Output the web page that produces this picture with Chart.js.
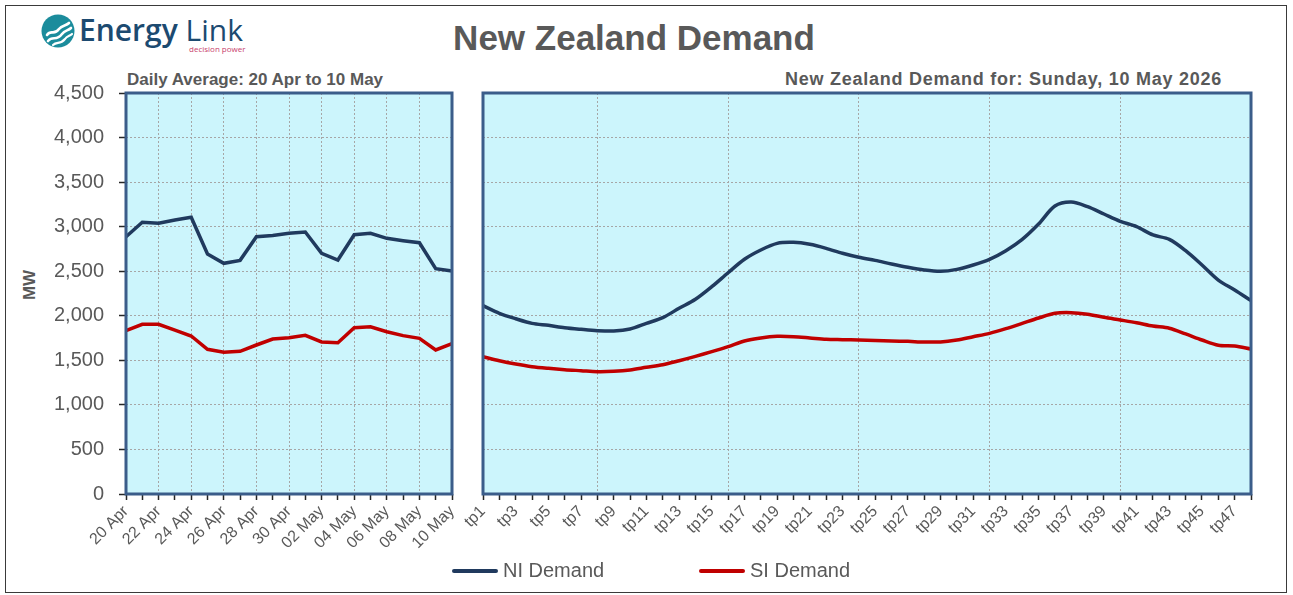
<!DOCTYPE html>
<html>
<head>
<meta charset="utf-8">
<script src="https://cdn.jsdelivr.net/npm/chart.js@4.4.1/dist/chart.umd.min.js"></script>
<style>
  body { margin: 0; background: #fff; }
  #wrap { position: relative; width: 1293px; height: 595px; overflow: hidden; font-family: "Liberation Sans", Arial, sans-serif; }
  #frame { position: absolute; left: 5px; top: 5px; width: 1282px; height: 588px; border: 1.5px solid #3a3a3a; box-sizing: border-box; }
  canvas { position: absolute; top: 0; }
  .txt { position: absolute; color: #595959; white-space: nowrap; }
  .legend-item { position: absolute; top: 558px; height: 24px; font-size: 20px; line-height: 24px; color: #595959; }
  .legend-item span { display: inline-block; width: 46px; height: 4px; border-radius: 2px; vertical-align: middle; margin-right: 5px; position: relative; top: -1px; }
</style>
</head>
<body>
<div id="wrap">
  <div id="frame"></div>

  <!-- logo -->
  <svg style="position:absolute;left:40px;top:14px" width="38" height="36" viewBox="0 0 38 36">
    <circle cx="18" cy="17" r="16.5" fill="#1b8c9c"/>
    <path d="M7 21 C11 15, 14 22, 19 15 C22 11, 26 12, 29 9" stroke="#fff" stroke-width="2.6" fill="none" stroke-linecap="round"/>
    <path d="M8 27 C13 21, 16 28, 22 20 C25 16, 28 17, 31 14" stroke="#fff" stroke-width="2.6" fill="none" stroke-linecap="round"/>
    <path d="M13 31 C17 27, 20 31, 25 25 C27 22, 30 22, 32 20" stroke="#fff" stroke-width="2.2" fill="none" stroke-linecap="round"/>
  </svg>
  <div class="txt" style="left:79px;top:12px;font-family:'Open Sans',sans-serif;font-size:30px;line-height:36px;color:#1c4a70;">
    <span style="font-weight:600;">Energy</span> <span style="font-weight:400;">Link</span>
  </div>
  <div class="txt" style="left:189px;top:44px;font-family:'Open Sans',sans-serif;font-size:8px;line-height:10px;color:#c8426c;">decision power</div>

  <div class="txt" style="left:0;width:1268px;top:18px;text-align:center;font-size:35px;line-height:40px;font-weight:bold;">New Zealand Demand</div>
  <div class="txt" style="left:127px;top:70px;font-size:17px;line-height:20px;font-weight:bold;">Daily Average: 20 Apr to 10 May</div>
  <div class="txt" style="right:71px;top:69px;font-size:18px;line-height:20px;font-weight:bold;letter-spacing:0.75px;">New Zealand Demand for: Sunday, 10 May 2026</div>
  <div class="txt" style="left:30px;top:285px;font-size:17px;line-height:20px;font-weight:bold;transform:translate(-50%,-50%) rotate(-90deg);">MW</div>

  <canvas id="dailyCanvas" width="470" height="595" style="left:0"></canvas>
  <canvas id="periodCanvas" width="853" height="595" style="left:440px"></canvas>

  <div class="legend-item" style="left:452px;"><span style="background:#203a5e"></span>NI Demand</div>
  <div class="legend-item" style="left:699px;"><span style="background:#c00000"></span>SI Demand</div>
</div>

<script>
// Daily averages, 20 Apr to 10 May
const dayLabels = [
  "20 Apr", "21 Apr", "22 Apr", "23 Apr", "24 Apr", "25 Apr", "26 Apr",
  "27 Apr", "28 Apr", "29 Apr", "30 Apr", "01 May", "02 May", "03 May",
  "04 May", "05 May", "06 May", "07 May", "08 May", "09 May", "10 May"
];
const niDaily = [2887, 3049, 3038, 3075, 3105, 2693, 2589, 2622, 2887, 2902, 2925,
                 2940, 2701, 2626, 2910, 2925, 2869, 2843, 2820, 2529, 2502];
const siDaily = [1833, 1904, 1904, 1840, 1773, 1624, 1590, 1601, 1672, 1739, 1754,
                 1780, 1706, 1698, 1866, 1877, 1821, 1777, 1747, 1616, 1687];

// Trading periods for Sunday 10 May
const tpLabels = [
  "tp1", "tp2", "tp3", "tp4", "tp5", "tp6", "tp7", "tp8", "tp9", "tp10", "tp11", "tp12",
  "tp13", "tp14", "tp15", "tp16", "tp17", "tp18", "tp19", "tp20", "tp21", "tp22", "tp23", "tp24",
  "tp25", "tp26", "tp27", "tp28", "tp29", "tp30", "tp31", "tp32", "tp33", "tp34", "tp35", "tp36",
  "tp37", "tp38", "tp39", "tp40", "tp41", "tp42", "tp43", "tp44", "tp45", "tp46", "tp47", "tp48"
];
const niPeriod = [2113, 2028, 1967, 1915, 1893, 1866, 1848, 1833, 1829, 1852, 1915, 1979,
                  2084, 2185, 2326, 2483, 2634, 2738, 2813, 2824, 2802, 2757, 2701, 2656,
                  2622, 2581, 2544, 2514, 2499, 2521, 2570, 2634, 2731, 2858, 3030, 3232,
                  3277, 3224, 3142, 3060, 3000, 2907, 2858, 2731, 2570, 2401, 2289, 2170];
const siPeriod = [1541, 1496, 1459, 1429, 1410, 1395, 1384, 1373, 1377, 1392, 1422, 1451,
                  1496, 1545, 1597, 1653, 1717, 1751, 1769, 1765, 1751, 1736, 1732, 1728,
                  1723, 1717, 1713, 1706, 1706, 1728, 1765, 1803, 1855, 1915, 1975, 2028,
                  2035, 2017, 1983, 1953, 1922, 1885, 1860, 1796, 1728, 1669, 1661, 1627];

const yMin = 0;
const yMax = 4500;
const yStep = 500;

const GRID = "#a6a6a6";
const NONE = "rgba(0,0,0,0)";

// fill and frame of the plot area
const plotArea = {
  id: "plotArea",
  beforeDraw(chart) {
    const { ctx, chartArea: a } = chart;
    ctx.save();
    ctx.fillStyle = "#ccf5fc";
    ctx.fillRect(a.left, a.top, a.right - a.left, a.bottom - a.top);
    ctx.restore();
  },
  afterDraw(chart) {
    const { ctx, chartArea: a } = chart;
    ctx.save();
    ctx.strokeStyle = "#3b5d8a";
    ctx.lineWidth = 3;
    ctx.strokeRect(a.left, a.top, a.right - a.left, a.bottom - a.top);
    ctx.restore();
  }
};

function makeChart(id, labels, ni, si, cfg) {
  const ctx = document.getElementById(id).getContext("2d");
  return new Chart(ctx, {
    type: "line",
    data: {
      labels: labels,
      datasets: [
        { label: "NI Demand", data: ni, borderColor: "#203a5e", borderWidth: 3.5, pointRadius: 0, tension: cfg.tension },
        { label: "SI Demand", data: si, borderColor: "#c00000", borderWidth: 3.5, pointRadius: 0, tension: cfg.tension }
      ]
    },
    options: {
      responsive: false,
      animation: false,
      devicePixelRatio: 1,
      layout: { padding: { top: 93, right: cfg.padRight, left: 0, bottom: 0 } },
      plugins: { legend: { display: false }, tooltip: { enabled: false } },
      scales: {
        x: {
          // fixed axis height, no extra room for the rotated labels
          afterFit: (s) => { s.height = 101; s.paddingLeft = 0; s.paddingRight = 0; },
          grid: {
            color: (c) => cfg.xGrid(c.index) ? GRID : NONE,
            lineWidth: 1,
            tickLength: 6,
            tickColor: "#262626",
            tickWidth: 1.5
          },
          border: { display: false, dash: [2, 2] },
          ticks: {
            autoSkip: false,
            maxRotation: 45,
            minRotation: 45,
            padding: 2,
            color: "#595959",
            font: { family: "Liberation Sans", size: 16 },
            callback: function (v, i) { return i % 2 === 0 ? this.getLabelForValue(v) : ""; }
          }
        },
        y: {
          min: yMin,
          max: yMax,
          afterFit: (s) => { s.width = cfg.yWidth; },
          grid: {
            color: (c) => (c.tick && c.tick.value > yMin && c.tick.value < yMax) ? GRID : NONE,
            lineWidth: 1,
            drawTicks: cfg.yLabels,
            tickLength: 7,
            tickColor: "#262626",
            tickWidth: 1.5
          },
          border: { display: false, dash: [2, 2] },
          ticks: {
            display: cfg.yLabels,
            stepSize: yStep,
            padding: 15,
            color: "#595959",
            font: { family: "Liberation Sans", size: 20 }
          }
        }
      }
    },
    plugins: [plotArea]
  });
}

// left: daily average, grid every second day
makeChart("dailyCanvas", dayLabels, niDaily, siDaily, {
  tension: 0,
  padRight: 18,
  yWidth: 126,
  yLabels: true,
  xGrid: (i) => i > 0 && i < dayLabels.length - 1 && i % 2 === 0
});

// right: half-hourly, grid every 8 periods
makeChart("periodCanvas", tpLabels, niPeriod, siPeriod, {
  tension: 0.3,
  padRight: 42,
  yWidth: 43,
  yLabels: false,
  xGrid: (i) => i < tpLabels.length - 1 && (i + 1) % 8 === 0
});
</script>
</body>
</html>
